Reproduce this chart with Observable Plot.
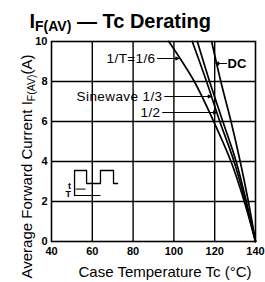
<!DOCTYPE html>
<html><head><meta charset="utf-8">
<script src="https://cdn.jsdelivr.net/npm/d3@7"></script>
<script src="https://cdn.jsdelivr.net/npm/@observablehq/plot@0.6"></script>
<style>
body{margin:0;background:#fff;}
svg [aria-label^="x-axis"] text, svg [aria-label^="y-axis"] text{font-weight:bold;font-family:"Liberation Sans Narrow","Liberation Sans",Arial,sans-serif;}
</style>
</head><body><div id="chart"></div>
<script>
// Derating curves: case temperature (°C) at which each current level (A) is reached
const current    = [10, 8, 6, 4, 2, 0];
const tempDC     = [118.5, 123, 128, 132.5, 136.5, 140];
const tempHalf   = [111.5, 117.5, 124, 130.5, 135.5, 140];
const tempThird  = [109, 116, 122.5, 129.5, 135, 140];
const tempSixth  = [97.5, 110, 119.5, 128, 134.5, 140];
const seriesNames = ["DC", "1/2", "1/3", "1/6"];
const seriesTemps = [tempDC, tempHalf, tempThird, tempSixth];

const xTicks = [40, 60, 80, 100, 120, 140];
const yTicks = [0, 2, 4, 6, 8, 10];

const titleText = "IF(AV) — Tc Derating";
const xLabelText = "Case Temperature Tc (°C)";
const yLabelText = "Average Forward Current IF(AV)(A)";

// annotation labels (data coordinates)
const labelTexts = ["1/T=1/6", "Sinewave 1/3", "1/2", "DC"];
const labelT     = [91, 94.4, 93.4, 126.3];
const labelI     = [9.15, 7.25, 6.45, 8.9];
const labelAnch  = ["end", "end", "end", "start"];
const leaderFrom = [92, 95.5, 94.5, 125.8];
const leaderTo   = [102.3, 118.2, 120.8, 120.6];

// inset waveform icon (data coordinates)
const waveT = [51.3, 51.3, 57.2, 57.2, 64, 64, 70.4, 70.4, 72.4];
const waveI = [2.3, 3.55, 3.55, 2.9, 2.9, 3.55, 3.55, 2.9, 2.9];
const dimT1 = [51.8, 51.3]; const dimT2 = [56.7, 64]; const dimI = [2.62, 2.3];

const rows = seriesNames.flatMap((s, k) => current.map((c, i) => ({s, T: seriesTemps[k][i], I: c})));
const labels = labelTexts.map((t, i) => ({t, T: labelT[i], I: labelI[i], a: labelAnch[i], x1: leaderFrom[i], x2: leaderTo[i]}));
const wave = waveT.map((t, i) => ({T: t, I: waveI[i]}));
const dims = dimI.map((v, i) => ({x1: dimT1[i], x2: dimT2[i], I: v}));

const font = "Liberation Sans, Arial, sans-serif";
const chart = Plot.plot({
  width: 265, height: 282,
  marginLeft: 51, marginRight: 10, marginTop: 41, marginBottom: 41,
  style: {fontFamily: font, fontSize: "11px", background: "white", color: "black", overflow: "visible"},
  x: {domain: [40, 140], ticks: xTicks, tickSize: 0, tickPadding: 6, label: null},
  y: {domain: [0, 10], ticks: yTicks, tickSize: 0, tickPadding: 4, label: null},
  marks: [
    Plot.ruleX(xTicks.slice(1, -1), {stroke: "black", strokeWidth: 1.4}),
    Plot.ruleY(yTicks.slice(1, -1), {stroke: "black", strokeWidth: 1.4}),
    Plot.frame({stroke: "black", strokeWidth: 1.6}),
    Plot.line(rows, {x: "T", y: "I", z: "s", stroke: "black", strokeWidth: 1.7, curve: "catmull-rom"}),
    Plot.arrow(labels, {x1: "x1", x2: "x2", y1: "I", y2: "I", stroke: "black", strokeWidth: 1.2, headLength: 4, headAngle: 50}),
    Plot.text(labels.filter(d => d.a === "end"), {x: "T", y: "I", text: "t", textAnchor: "end", fontSize: 13.5, fill: "black", style: "letter-spacing:0.4px"}),
    Plot.text(labels.filter(d => d.a === "start"), {x: "T", y: "I", text: "t", textAnchor: "start", fontSize: 13, fontWeight: "bold", fill: "black"}),
    Plot.line(wave, {x: "T", y: "I", stroke: "black", strokeWidth: 1.3}),
    Plot.link(dims, {x1: "x1", x2: "x2", y1: "I", y2: "I", stroke: "black", strokeWidth: 1}),
    Plot.text(["t", "T"], {x: [49.6, 49.6], y: [2.78, 2.35], text: d => d, textAnchor: "end", fontSize: 9, fontWeight: "bold"}),
    Plot.text([titleText], {frameAnchor: "top-left", dx: -22, dy: -14, lineAnchor: "bottom", textAnchor: "start", fontSize: 20, fontWeight: "bold"}),
    Plot.text([xLabelText], {frameAnchor: "bottom-left", dx: 27, dy: 35, lineAnchor: "bottom", textAnchor: "start", fontSize: 15}),
    Plot.text([yLabelText], {frameAnchor: "bottom-left", dx: -20, dy: 37, rotate: -90, lineAnchor: "bottom", textAnchor: "start", fontSize: 15})
  ]
});
document.getElementById("chart").appendChild(chart);

// letter spacing for the curve labels
d3.select(chart).selectAll("text").filter(function() { return ["1/T=1/6", "Sinewave 1/3", "1/2"].includes(this.textContent); }).style("letter-spacing", "0.4px");

// subscripts
function subscript(full, before, sub, after, size, subSize, shift) {
  d3.select(chart).selectAll("text").filter(function() { return this.textContent === full; }).each(function() {
    const t = d3.select(this);
    t.selectAll("*").remove();
    t.text(null);
    t.append("tspan").text(before);
    t.append("tspan").attr("font-size", subSize).attr("dy", shift).text(sub);
    t.append("tspan").attr("font-size", size).attr("dy", -shift).text(after);
  });
}
subscript(titleText, "I", "F(AV)", " — Tc Derating", 20, 14, 3);
subscript(yLabelText, "Average Forward Current I", "F(AV)", "(A)", 15, 10.5, 3);
</script></body></html>
